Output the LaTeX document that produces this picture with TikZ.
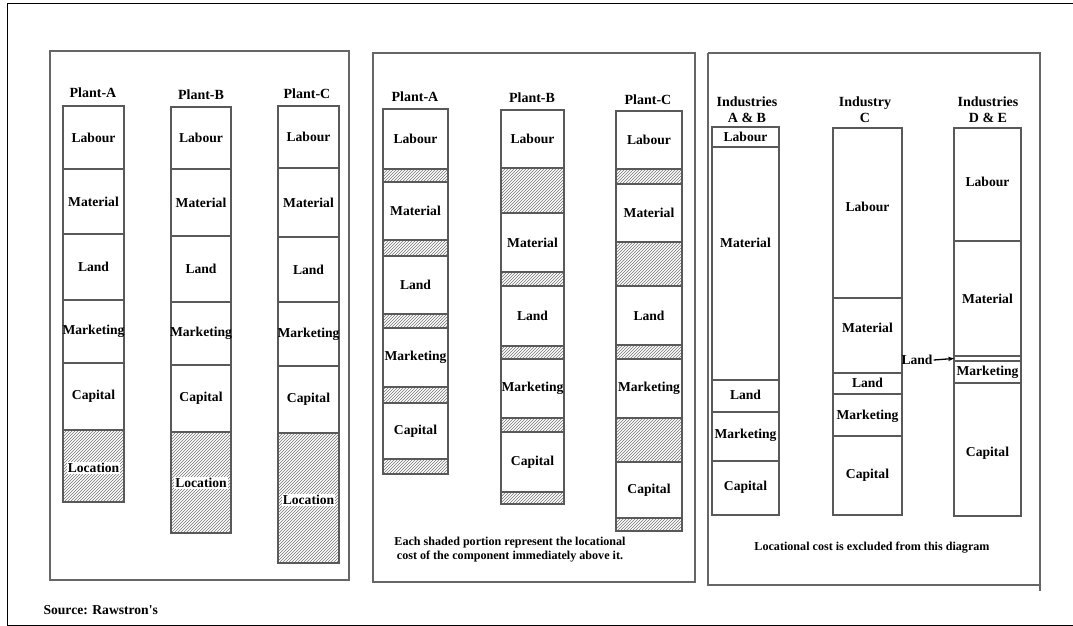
\documentclass[tikz,border=0pt]{standalone}
\usepackage{fontspec}
\setmainfont{Liberation Serif}
\usetikzlibrary{arrows.meta,patterns}

\begin{document}
\begin{tikzpicture}[x=1pt,y=-1pt,
    part/.style={draw=black!65,line width=1.1pt},
    cost/.style={draw=black!65,line width=1.1pt,pattern=north east lines,pattern color=black!55},
    lab/.style={font=\bfseries\fontsize{13.6}{15}\selectfont,inner sep=1pt},
    head/.style={font=\bfseries\fontsize{14}{16}\selectfont,align=center,inner sep=0pt},
    note/.style={font=\bfseries\fontsize{12.1}{14}\selectfont,align=center},
    panel/.style={draw=black!60,line width=1.2pt}]

        \useasboundingbox (0,0) rectangle (1073,626);

        %------------------
        % outer frame
        %------------------
        \draw[line width=1pt] (1073,4) -- (7,4) -- (7,625) -- (1073,625);
        \node[font=\bfseries\fontsize{13.6}{15}\selectfont,anchor=west] (src) at (40,610) {Source: Rawstron\textquotesingle s};

        %------------------
        % panel 1 : total cost
        %------------------
        \draw[panel] (50,51) rectangle (349,580);
        \node[head] (p1a) at (93,93) {Plant-A};
        \node[head] (p1b) at (201,95) {Plant-B};
        \node[head] (p1c) at (307,94) {Plant-C};

        % Plant-A
        \def\xL{63}\def\xR{124}
        \foreach \yt/\yb/\txt [count=\i] in {106/169/Labour,169/234/Material,234/300/Land,300/363/Marketing,363/430/Capital}
        {
          \draw[part] (\xL,\yt) rectangle (\xR,\yb);
          \node[lab] (p1a-\i) at ({(\xL+\xR)/2},{(\yt+\yb)/2}) {\txt};
        }
        \draw[cost] (\xL,430) rectangle (\xR,502);
        \node[lab,fill=white] (p1a-loc) at ({(\xL+\xR)/2},468) {Location};

        % Plant-B
        \def\xL{171}\def\xR{231}
        \foreach \yt/\yb/\txt [count=\i] in {107/169/Labour,169/236/Material,236/302/Land,302/365/Marketing,365/432/Capital}
        {
          \draw[part] (\xL,\yt) rectangle (\xR,\yb);
          \node[lab] (p1b-\i) at ({(\xL+\xR)/2},{(\yt+\yb)/2}) {\txt};
        }
        \draw[cost] (\xL,432) rectangle (\xR,533);
        \node[lab,fill=white] (p1b-loc) at ({(\xL+\xR)/2},483) {Location};

        % Plant-C
        \def\xL{278}\def\xR{339}
        \foreach \yt/\yb/\txt [count=\i] in {106/168/Labour,168/237/Material,237/302/Land,302/366/Marketing,366/433/Capital}
        {
          \draw[part] (\xL,\yt) rectangle (\xR,\yb);
          \node[lab] (p1c-\i) at ({(\xL+\xR)/2},{(\yt+\yb)/2}) {\txt};
        }
        \draw[cost] (\xL,433) rectangle (\xR,563);
        \node[lab,fill=white] (p1c-loc) at ({(\xL+\xR)/2},500) {Location};

        %------------------
        % panel 2 : locational cost by component
        %------------------
        \draw[panel] (373,53) rectangle (695,582);
        \node[head] (p2a) at (415,97) {Plant-A};
        \node[head] (p2b) at (532,98) {Plant-B};
        \node[head] (p2c) at (648,100) {Plant-C};

        % Plant-A
        \def\xL{383}\def\xR{448}
        \foreach \yt/\yb/\txt [count=\i] in {109/169/Labour,182/240/Material,256/314/Land,328/387/Marketing,403/459/Capital}
        {
          \draw[part] (\xL,\yt) rectangle (\xR,\yb);
          \node[lab] (p2a-\i) at ({(\xL+\xR)/2},{(\yt+\yb)/2}) {\txt};
        }
        \foreach \yt/\yb in {169/182,240/256,314/328,387/403,459/474}
          \draw[cost] (\xL,\yt) rectangle (\xR,\yb);

        % Plant-B
        \def\xL{501}\def\xR{564}
        \foreach \yt/\yb/\txt [count=\i] in {110/168/Labour,213/272/Material,286/346/Land,359/418/Marketing,432/492/Capital}
        {
          \draw[part] (\xL,\yt) rectangle (\xR,\yb);
          \node[lab] (p2b-\i) at ({(\xL+\xR)/2},{(\yt+\yb)/2}) {\txt};
        }
        \foreach \yt/\yb in {168/213,272/286,346/359,418/432,492/504}
          \draw[cost] (\xL,\yt) rectangle (\xR,\yb);

        % Plant-C
        \def\xL{616}\def\xR{682}
        \foreach \yt/\yb/\txt [count=\i] in {111/169/Labour,184/242/Material,286/345/Land,359/418/Marketing,462/518/Capital}
        {
          \draw[part] (\xL,\yt) rectangle (\xR,\yb);
          \node[lab] (p2c-\i) at ({(\xL+\xR)/2},{(\yt+\yb)/2}) {\txt};
        }
        \foreach \yt/\yb in {169/184,242/286,345/359,418/462,518/531}
          \draw[cost] (\xL,\yt) rectangle (\xR,\yb);

        \node[note] (p2note) at (510,550) {Each shaded portion represent the locational\\cost of the component immediately above it.};

        %------------------
        % panel 3 : industries
        %------------------
        \draw[panel] (708,53) -- (1040,53) -- (1040,591);
        \draw[panel] (708,53) -- (708,585) -- (1040,585);
        \node[head] (p3a) at (747,110) {Industries\\A \& B};
        \node[head] (p3b) at (865,110) {Industry\\C};
        \node[head] (p3c) at (988,110) {Industries\\D \& E};

        % Industries A & B
        \def\xL{712}\def\xR{779}
        \foreach \yt/\yb/\ly/\txt [count=\i] in {127/147/137/Labour,147/380/243/Material,380/412/395/Land,412/461/435/Marketing,461/515/487/Capital}
        {
          \draw[part] (\xL,\yt) rectangle (\xR,\yb);
          \node[lab] (p3a-\i) at ({(\xL+\xR)/2},\ly) {\txt};
        }

        % Industry C
        \def\xL{833}\def\xR{902}
        \foreach \yt/\yb/\ly/\txt [count=\i] in {128/298/207/Labour,298/373/328/Material,373/394/383/Land,394/436/416/Marketing,436/515/475/Capital}
        {
          \draw[part] (\xL,\yt) rectangle (\xR,\yb);
          \node[lab] (p3b-\i) at ({(\xL+\xR)/2},\ly) {\txt};
        }

        % Industries D & E
        \def\xL{954}\def\xR{1021}
        \foreach \yt/\yb/\ly/\txt [count=\i] in {128/241/182/Labour,241/356/299/Material,361/383/372/Marketing,383/516/453/Capital}
        {
          \draw[part] (\xL,\yt) rectangle (\xR,\yb);
          \node[lab] (p3c-\i) at ({(\xL+\xR)/2},\ly) {\txt};
        }
        \draw[part] (\xL,356) rectangle (\xR,361);
        \coordinate (landstrip) at (\xL,358.5);

        % Land arrow
        \node[lab] (landlab) at (917,360) {Land};
        \draw[-{Stealth[length=6pt]},line width=1.3pt] (landlab.east) -- (landstrip);

        \node[note] (p3note) at (872,548) {Locational cost is excluded from this diagram};
      \end{tikzpicture}
\end{document}
